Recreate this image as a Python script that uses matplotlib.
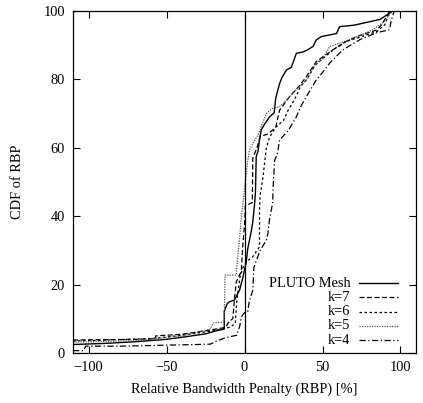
import numpy as np
import matplotlib
matplotlib.use("Agg")
import matplotlib.pyplot as plt

plt.rcParams['font.family'] = ['Liberation Serif', 'DejaVu Serif']
plt.rcParams['font.size'] = 10.4

# CDF curves: (RBP [%], CDF [%])
pluto_x = [-110, -90, -70, -50, -37, -25, -19, -13, -13, -11, -9.6, -6.4, -3.2, -1.1, 1.1, 2.1, 4.3, 5.3,
           6.4, 7, 7.5, 8.6, 9.6, 10.7, 13, 16, 19, 20, 22.5, 24, 26.8, 30, 32, 33.2, 37.5, 40, 43.9,
           46, 49.3, 55, 59, 61, 70, 76, 86.8, 92, 95]
pluto_y = [2.5, 2.8, 3.3, 4.0, 4.8, 5.6, 6.4, 7.0, 12.3, 14.5, 15, 15.5, 18.4, 22, 26.7, 30.6, 35.5, 38.4,
           43.3, 47, 57.4, 58.9, 62.3, 65.2, 67, 69, 70.2, 74.5, 78.8, 80.5, 82.7, 83.5, 86, 87.6, 88, 88.5, 89.6,
           91.5, 92.5, 93, 93.4, 95.4, 95.8, 96.4, 97.5, 99, 100]

k7_x = [-110, -70, -57, -57, -40, -25, -12, -10.7, -7.5, -6.4, -5.3, -2.1, -1.1, 0, 0.5, 5, 5.3, 8, 10,
        15, 20, 22.5, 29, 35, 39.7, 46, 50, 56.6, 65, 71.8, 84.7, 88, 91, 93]
k7_y = [3.8, 4.0, 4.2, 5.0, 5.5, 6.5, 7.5, 8.7, 10.1, 16, 20.8, 23.8, 31.6, 37.4, 43, 44, 57, 60, 63.3,
        64, 66, 71, 75, 78, 80.8, 85.2, 86.5, 88.6, 91, 92.5, 94.4, 96, 98.3, 100]

k6_x = [-110, -60, -40, -20, -10, -6, -5, -3, -1, 2, 5, 8, 9.6, 9.6, 10, 12, 14, 16, 20, 25, 28,
        32, 36, 40, 45, 50, 58, 65, 75, 85, 90, 92, 94]
k6_y = [3.5, 4.2, 5.2, 6.5, 7.5, 8.5, 15, 22, 25, 27, 28, 30, 31, 42, 46, 52, 60, 63, 66, 68, 71,
        74, 78, 80, 84, 86, 89, 91, 92.5, 94, 96, 98.5, 100]

k5_x = [-110, -70, -40, -22, -20, -14, -13, -12.5, -5.3, -5, -3.2, -2.1, -1.1, 0, 1.1, 2, 3.2, 5,
        8.6, 14, 18, 22.5, 27, 31, 39.7, 46, 50, 54.7, 61, 70, 82.5, 90, 93, 95]
k5_y = [3.2, 3.6, 5.0, 7, 8.8, 9.0, 9.2, 22.8, 22.8, 25, 33.5, 39.4, 43.3, 48, 52.5, 56, 59.4, 61,
        63.7, 70, 71.5, 72, 74, 75.9, 79.8, 84.8, 86, 89.6, 90.6, 92, 94.5, 97, 99, 100]

k4_x = [-110, -103, -102, -80, -50, -30, -22, -18, -12, -5, -3, -2, 0, 2, 3, 5.3, 6, 8.4, 10, 14,
        15, 16, 18, 18.5, 19.3, 21, 22.5, 28, 33.2, 36, 39.7, 46, 50, 54.7, 63, 74, 84.7, 93, 94, 96]
k4_y = [0.7, 0.7, 2.0, 2.0, 2.3, 2.5, 2.6, 3.5, 4.5, 5.2, 8, 10.6, 11.8, 12, 15, 18.4, 25, 28, 30, 33,
        35, 39, 43.8, 50, 56.4, 58, 62.3, 65, 69, 72, 75, 79.8, 82, 84.8, 88.6, 91.6, 93.6, 94.5, 97, 100]

series = [
    ("PLUTO Mesh", pluto_x, pluto_y, dict(color='black', linestyle='-', lw=1.0)),
    ("k=7", k7_x, k7_y, dict(color='black', linestyle=(0, (4, 2)), lw=0.9)),
    ("k=6", k6_x, k6_y, dict(color='black', linestyle=(0, (2, 2)), lw=0.9)),
    ("k=5", k5_x, k5_y, dict(color='#555555', linestyle=(0, (1, 1)), lw=0.9)),
    ("k=4", k4_x, k4_y, dict(color='black', linestyle=(0, (5, 2, 1, 2)), lw=0.9)),
]

fig = plt.figure(figsize=(4.23, 4.03), dpi=100)
ax = fig.add_axes([0.1726, 0.124, 0.811, 0.849])

for name, xs, ys, style in series:
    ax.plot(xs, ys, **style)

ax.axvline(0, color='black', lw=0.9)

ax.set_xlim(-110, 110)
ax.set_ylim(0, 100)
ax.set_xticks([-100, -50, 0, 50, 100])
ax.set_yticks([0, 20, 40, 60, 80, 100])
ax.set_xticklabels(['\u2212100', '\u221250', '0', '50', '100'])
ax.tick_params(direction='in', top=True, right=True, length=5, width=0.8, pad=6)
for s in ax.spines.values():
    s.set_linewidth(0.9)

ax.set_xlabel("Relative Bandwidth Penalty (RBP) [%]", labelpad=6)
ax.set_ylabel("CDF of RBP", labelpad=14)

# gnuplot-style key: right-aligned text, line sample to its right
row_y = [0.204, 0.163, 0.121, 0.079, 0.038]
for (name, xs, ys, style), ry in zip(series, row_y):
    ax.text(0.808, ry, name, transform=ax.transAxes, ha='right', va='center')
    ax.plot([0.834, 0.948], [ry, ry], transform=ax.transAxes, **style)

fig.savefig("out.png", dpi=100)
